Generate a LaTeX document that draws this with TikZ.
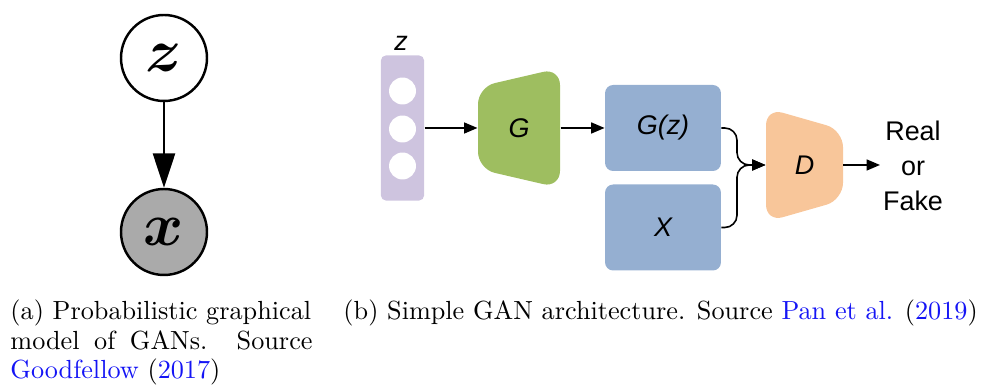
\documentclass[tikz,border=0pt]{standalone}
\usepackage{fontspec}
\usepackage{bm}
\usetikzlibrary{arrows.meta}
\newfontfamily\arialfont{Liberation Sans}
\definecolor{zpurple}{RGB}{206,196,223}
\definecolor{ggreen}{RGB}{158,190,96}
\definecolor{bblue}{RGB}{149,175,209}
\definecolor{dorange}{RGB}{248,198,154}
\definecolor{obsgray}{RGB}{170,170,170}
\definecolor{citeblue}{RGB}{20,20,245}
\tikzset{
  pgmnode/.style={circle, draw=black, line width=1pt, minimum size=35.1pt, inner sep=0pt, font=\fontsize{26}{30}\selectfont},
  pgmarrow/.style={line width=0.9pt, -{Triangle[length=14pt,width=9pt]}},
  flowarrow/.style={line width=0.65pt, -{Triangle[length=5.5pt,width=4.5pt]}},
  dlabel/.style={font=\arialfont\itshape\fontsize{11}{13}\selectfont, inner sep=0pt},
  databox/.style={fill=bblue, rounded corners=3.3pt, minimum width=47.3pt, minimum height=35.1pt, inner sep=0pt, dlabel},
  unitcirc/.style={circle, fill=white, minimum size=11pt, inner sep=0pt},
  captext/.style={inner sep=0pt, anchor=base west, font=\fontsize{10.7}{12}\selectfont}
}
\begin{document}
\begin{tikzpicture}[x=0.4082pt,y=-0.4082pt]
\useasboundingbox (0,0) rectangle (984,387);
% (a)
\node[pgmnode, fill=white] (zc) at (164,58) {$\bm{z}$};
\node[pgmnode, fill=obsgray] (xc) at (164,232) {$\bm{x}$};
\draw[pgmarrow] (zc) -- (xc);
% (b)
\node[fill=zpurple, rounded corners=2pt, minimum width=17.6pt, minimum height=59.2pt, inner sep=0pt] (zr) at (402.5,128) {};
\node[unitcirc] (u1) at (402.5,91) {};
\node[unitcirc] (u2) at (402.5,129) {};
\node[unitcirc] (u3) at (402.5,166) {};
\node[dlabel] (zl) at (401,43) {z};
% G
\fill[ggreen, rounded corners=7pt] (478,87) -- (560,68) -- (560,188) -- (478,169) -- cycle;
\node[dlabel, minimum width=33.5pt, minimum height=49pt] (G) at (519,128) {G};
% G(z), X
\node[databox] (Gz) at (663,128) {G(z)};
\node[databox] (X) at (663,227.5) {X};
% D
\fill[dorange, rounded corners=7pt] (766,108) -- (843,130) -- (843,200) -- (766,222) -- cycle;
\node[dlabel, minimum width=31.4pt, minimum height=46.5pt] (D) at (804.5,165) {D};
\node[align=center, inner sep=0pt, font=\arialfont\fontsize{11}{14.3}\selectfont] (out) at (913,166) {Real\\or\\Fake};
\coordinate (outend) at (880,165);
% connectors
\draw[flowarrow] (zr.east) -- (G.west);
\draw[flowarrow] (G.east) -- (Gz.west);
\draw[flowarrow, rounded corners=5pt] (Gz.east) -| (737,165) -- (D.west);
\draw[flowarrow, rounded corners=5pt] (X.east) -| (737,165) -- (D.west);
\draw[flowarrow] (D.east) -- (outend);
% captions
\node[captext] (ca1) at (10,320) {(a) Probabilistic graphical};
\node[captext] (ca2) at (10,349.5) {\makebox[123.3pt][s]{model of GANs. Source}};
\node[captext] (ca3) at (10,379) {\textcolor{citeblue}{Goodfellow} (\textcolor{citeblue}{2017})};
\node[captext] (cb) at (343,320) {(b) Simple GAN architecture. Source \textcolor{citeblue}{Pan et al.} (\textcolor{citeblue}{2019})};
\end{tikzpicture}
\end{document}
